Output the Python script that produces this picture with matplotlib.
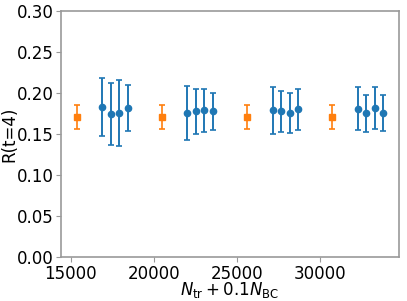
import numpy as np
import matplotlib
matplotlib.use('Agg')
import matplotlib.pyplot as plt

# опорные точки (оранжевые квадраты)
ref_x = [15360, 20480, 25600, 30720]
ref_y = [0.171, 0.171, 0.171, 0.171]
ref_err = [0.0145, 0.0145, 0.0145, 0.0145]

# синие точки, по четыре на группу
blue_x = [16896, 17408, 17920, 18432,
          22016, 22528, 23040, 23552,
          27136, 27648, 28160, 28672,
          32256, 32768, 33280, 33792]
blue_y = [0.183, 0.1745, 0.176, 0.182,
          0.176, 0.178, 0.1788, 0.178,
          0.1788, 0.178, 0.1756, 0.1805,
          0.1809, 0.1752, 0.1813, 0.1756]
blue_err = [0.035, 0.0375, 0.040, 0.028,
            0.033, 0.0275, 0.026, 0.0225,
            0.029, 0.025, 0.024, 0.025,
            0.026, 0.023, 0.0256, 0.022]

fig = plt.figure(figsize=(4.07, 3.01), dpi=100)
ax = fig.add_axes([0.150, 0.146, 0.830, 0.817])

ax.errorbar(ref_x, ref_y, yerr=ref_err, fmt='s', color='#ff7f0e',
            markersize=4, capsize=2.5, elinewidth=1.2, capthick=1.2)
ax.errorbar(blue_x, blue_y, yerr=blue_err, fmt='o', color='#1f77b4',
            markersize=4.5, capsize=2.5, elinewidth=1.4, capthick=1.2)

ax.set_xlim(14417, 34730)
ax.set_ylim(0, 0.30)
ax.set_xticks([15000, 20000, 25000, 30000])
ax.set_yticks(np.arange(0, 0.31, 0.05))
ax.yaxis.set_major_formatter(matplotlib.ticker.FormatStrFormatter('%.2f'))
ax.tick_params(labelsize=12, length=3.5, pad=2, color='#999999')
for sp in ax.spines.values():
    sp.set_color('#999999')
    sp.set_linewidth(1.2)

ax.set_xlabel(r'$N_{\rm tr} + 0.1 N_{\rm BC}$', fontsize=12)
ax.xaxis.set_label_coords(0.5, -0.092)
ax.set_ylabel('R(t=4)', fontsize=12)
ax.yaxis.set_label_coords(-0.125, 0.5)

fig.savefig('out.png', dpi=100)
